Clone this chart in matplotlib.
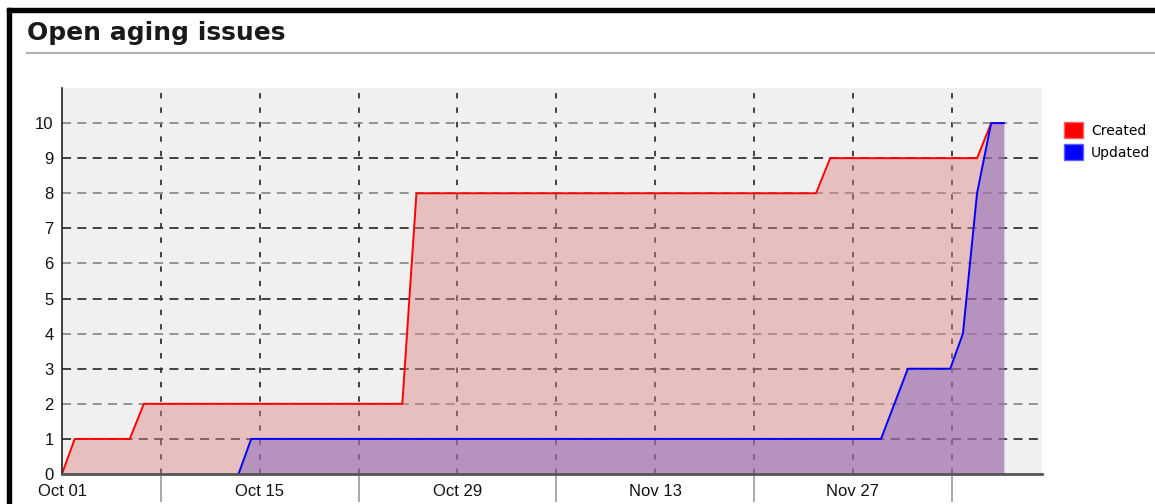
import matplotlib
matplotlib.use("Agg")
import matplotlib.pyplot as plt
from matplotlib.patches import Patch, Rectangle
from matplotlib.lines import Line2D

# data (x = days since Oct 01)
created_days = [0, 0.9, 4.8, 5.8, 24.1, 25.1, 53.4, 54.4, 64.8, 65.8, 66.7]
created_vals = [0, 1, 1, 2, 2, 8, 8, 9, 9, 10, 10]
updated_days = [12.5, 13.4, 58.0, 59.9, 62.9, 63.8, 64.8, 65.8, 66.7]
updated_vals = [0, 1, 1, 3, 3, 4, 8, 10, 10]

label_days = [0, 14, 28, 42, 56]
label_text = ["Oct 01", "Oct 15", "Oct 29", "Nov 13", "Nov 27"]
between_days = [7, 21, 35, 49, 63]
y_ticks = list(range(0, 11))

W, H = 1155, 504
fig = plt.figure(figsize=(W / 100, H / 100), dpi=100)
fig.patch.set_facecolor("white")

# axes placed by pixel box
ax = fig.add_axes([62 / W, 1 - 474 / H, (1042 - 62) / W, (474 - 88) / H])
ax.set_facecolor("#f0f0f0")
ax.set_xlim(0, 69.4)
ax.set_ylim(0, 11)

# grid lines (under the fills)
for d in label_days[1:] + between_days:
    ax.axvline(d, color="#333333", lw=1.3, ls=(0, (3, 5)), zorder=1)
for v in y_ticks[1:]:
    col = "#333333" if v % 2 else "#8c8c8c"
    ax.axhline(v, color=col, lw=1.3, ls=(0, (5, 3.5)), zorder=1)

# filled areas and lines
ax.fill_between(created_days, created_vals, 0, color=(222/255, 133/255, 133/255),
                alpha=0.45, lw=0, zorder=2)
ax.fill_between(updated_days, updated_vals, 0, color=(130/255, 100/255, 190/255),
                alpha=0.48, lw=0, zorder=3)
ax.plot(created_days, created_vals, color="#ff0000", lw=1.4, zorder=4)
ax.plot(updated_days, updated_vals, color="#0000ff", lw=1.4, zorder=5)

# axes styling
for s in ["top", "right"]:
    ax.spines[s].set_visible(False)
ax.spines["left"].set_color("#222222")
ax.spines["left"].set_linewidth(1.2)
ax.spines["bottom"].set_color("#555555")
ax.spines["bottom"].set_linewidth(2)
ax.spines["left"].set_zorder(6)
ax.spines["bottom"].set_zorder(6)

ax.set_yticks(y_ticks)
ax.set_yticklabels([str(v) for v in y_ticks])
ax.set_xticks(label_days)
ax.set_xticklabels(label_text)
ax.set_xticks(between_days, minor=True)
ax.tick_params(axis="y", length=0, pad=6, labelsize=12, labelcolor="#111111")
ax.tick_params(axis="x", which="major", length=0, pad=7, labelsize=12,
               labelcolor="#111111")
ax.tick_params(axis="x", which="minor", length=20, width=1.2, color="#999999",
               direction="out")
for lab in ax.get_xticklabels() + ax.get_yticklabels():
    lab.set_family("Liberation Sans")

# legend
handles = [Patch(facecolor="#ff0000", edgecolor="#ff6060", label="Created"),
           Patch(facecolor="#0000ff", edgecolor="#6060ff", label="Updated")]
fig.legend(handles=handles, loc="upper left", frameon=False,
           bbox_to_anchor=(1057 / W, 1 - 115 / H), borderpad=0,
           handlelength=1.4, handleheight=1.4, handletextpad=0.55,
           labelspacing=0.45, prop={"family": "DejaVu Sans", "size": 10})

# title and separator
fig.text(27 / W, 1 - 33 / H, "Open aging issues", fontsize=18, weight="bold",
         family="DejaVu Sans", color="#1a1a1a", va="center", ha="left")
fig.add_artist(Line2D([27 / W, 1], [1 - 53 / H, 1 - 53 / H], color="#b0b0b0",
                      lw=1.5, transform=fig.transFigure))

# black frame on left and top
fig.add_artist(Rectangle((7 / W, 0), 4 / W, 1 - 8 / H, color="black",
                         transform=fig.transFigure))
fig.add_artist(Rectangle((7 / W, 1 - 12 / H), 1 - 7 / W, 4 / H, color="black",
                         transform=fig.transFigure))

fig.savefig("out.png", dpi=100)
